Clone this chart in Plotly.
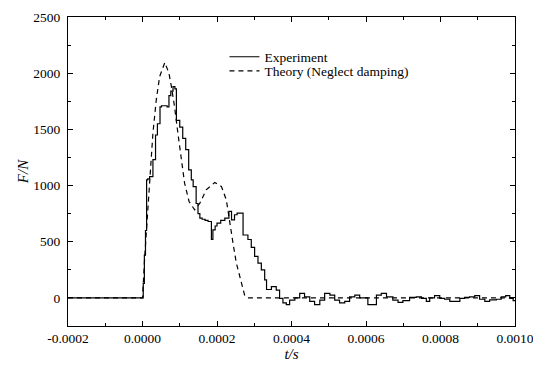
import plotly.graph_objects as go

# Experiment (time in microseconds, force in N)
exp_t_us = [-200, 2, 5, 8, 11, 14, 19, 28, 35, 40,
            47, 51, 66, 71, 76, 82, 87, 91, 100, 108,
            116, 124, 131, 136, 144, 149, 154, 160, 168, 176,
            185, 189, 195, 200, 210, 221, 232, 239, 247, 254,
            261, 270, 283, 292, 301, 310, 319, 328, 333, 346,
            359, 368, 377, 386, 395, 409, 422, 435, 449, 462,
            476, 489, 503, 516, 529, 543, 556, 570, 583, 597,
            605, 619, 628, 641, 655, 672, 686, 699, 717, 735,
            749, 762, 771, 784, 798, 811, 825, 838, 852, 865,
            878, 892, 905, 919, 932, 950, 963, 975, 986, 995,
            1000]
exp_f = [0, 130, 380, 600, 1050, 1060, 1080, 1230, 1450, 1550,
         1700, 1710, 1700, 1800, 1840, 1880, 1860, 1580, 1520, 1420,
         1320, 1140, 1050, 990, 840, 750, 710, 700, 690, 680,
         520, 605, 640, 665, 690, 710, 770, 695, 740, 755,
         755, 560, 520, 450, 370, 310, 250, 160, 75, 100,
         70, -5, -45, -60, -20, 0, 40, 10, -30, -60,
         -20, 40, 25, -20, -45, -30, 10, 25, 0, 0,
         -60, -60, 25, 40, 10, -20, -40, -25, 5, 10,
         -5, -30, 0, 20, -5, -12, -30, -30, -5, 5,
         10, 20, -12, -30, -18, -12, 10, 20, -5, -25,
         -25]

# Theory (neglect damping)
th_t_us = [-200, 0, 6, 15, 21, 28, 37, 46, 60, 71,
           77.5, 86, 95, 104, 113, 125, 140, 154, 171, 194,
           212, 225, 234, 243, 252, 265, 274, 282, 1000]
th_f = [0, 0, 368, 784, 1110, 1467, 1763, 1970, 2095, 2000,
        1882, 1703, 1467, 1229, 1021, 858, 784, 843, 962, 1027,
        991, 873, 665, 487, 309, 131, 27, 0, 0]

x_tickvals = [-0.0002, 0.0, 0.0002, 0.0004, 0.0006, 0.0008, 0.0010]
x_ticktext = ["-0.0002", "0.0000", "0.0002", "0.0004", "0.0006", "0.0008", "0.0010"]
y_tickvals = [0, 500, 1000, 1500, 2000, 2500]
y_ticktext = ["0", "500", "1000", "1500", "2000", "2500"]

exp_t = [t * 1e-6 for t in exp_t_us]
th_t = [t * 1e-6 for t in th_t_us]

FONT = "Times New Roman, Liberation Serif, serif"

fig = go.Figure()
fig.add_trace(go.Scatter(x=exp_t, y=exp_f, mode="lines", name="Experiment",
                         legend="legend",
                         line=dict(color="black", width=1.2, shape="hv")))
fig.add_trace(go.Scatter(x=th_t, y=th_f, mode="lines", name="Theory (Neglect damping)",
                         legend="legend2",
                         line=dict(color="black", width=1.2, dash="5px,4px")))

axis_common = dict(showline=True, linecolor="black", linewidth=1.3, mirror="allticks",
                   ticks="inside", ticklen=5, tickwidth=1.2, tickcolor="black",
                   showgrid=False, zeroline=False, automargin=False,
                   ticklabeloverflow="allow",
                   tickfont=dict(family=FONT, size=13.5, color="black"))

fig.update_xaxes(range=[-0.0002, 0.0010000001], tickvals=x_tickvals, ticktext=x_ticktext,
                 minor=dict(ticks="inside", ticklen=3, tickwidth=1.2, tickcolor="black",
                            dtick=0.0001, tick0=0, showgrid=False),
                 title=dict(text="<i>t/s</i>", font=dict(family=FONT, size=15, color="black"),
                            standoff=2),
                 **axis_common)
fig.update_yaxes(range=[-250, 2500], tickvals=y_tickvals, ticktext=y_ticktext,
                 minor=dict(ticks="inside", ticklen=3, tickwidth=1.2, tickcolor="black",
                            dtick=250, tick0=0, showgrid=False),
                 title=dict(text="<i>F/N</i>", font=dict(family=FONT, size=15, color="black"),
                            standoff=0),
                 ticklabelstandoff=4,
                 **axis_common)

leg_common = dict(xanchor="left", yanchor="middle", bgcolor="rgba(0,0,0,0)", borderwidth=0,
                  font=dict(family=FONT, size=13.5, color="black"))
fig.update_layout(
    width=533, height=365,
    margin=dict(l=68, r=18, t=17, b=39),
    plot_bgcolor="white", paper_bgcolor="white",
    font=dict(family=FONT, color="black"),
    showlegend=True,
    legend=dict(x=0.35, y=0.8706, **leg_common),
    legend2=dict(x=0.35, y=0.825, **leg_common),
)

fig.write_html("out.html", config={"displayModeBar": False},
               post_script="document.body.style.margin='0';")
